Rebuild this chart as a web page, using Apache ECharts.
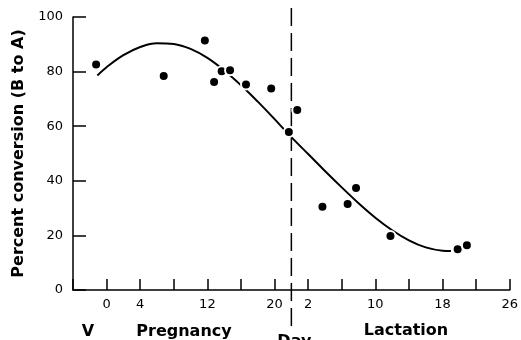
<!DOCTYPE html>
<html>
<head>
<meta charset="utf-8">
<script src="https://cdn.jsdelivr.net/npm/echarts@6/dist/echarts.min.js"></script>
<style>
    html, body { margin: 0; padding: 0; background: #fff; }
    #chart { width: 521px; height: 340px; }
</style>
</head>
<body>
<div id="chart"></div>
<script>
    // x = day of pregnancy; lactation day L is drawn at x = 22 + L
    const dayLabels = { 0: '0', 4: '4', 12: '12', 20: '20', 24: '2', 32: '10', 40: '18', 48: '26' };
    const birthDay = 22;

    // measured points
    const pointDays = [-1.25, 6.8, 11.7, 12.8, 13.7, 14.7, 16.6, 19.6, 21.7, 22.7, 25.7, 28.7, 29.7, 33.8, 41.8, 42.9];
    const pointValues = [82.6, 78.4, 91.4, 76.2, 80.1, 80.5, 75.3, 73.8, 57.9, 65.9, 30.5, 31.5, 37.4, 19.8, 14.9, 16.4];

    // fitted curve
    const curveDays = [-1.1, 0, 2, 4, 6, 8, 10, 12, 14, 16, 18, 20, 22, 24, 26, 28, 30, 32, 34, 36, 38, 40, 41];
    const curveValues = [78.6, 81.6, 86.0, 89.0, 90.4, 90.1, 88.3, 85.0, 80.4, 75.0, 69.0, 62.6, 56.0, 49.8, 43.6, 37.6, 31.8, 26.5, 21.9, 18.2, 15.6, 14.4, 14.3];

    document.addEventListener('DOMContentLoaded', function () {
        const chart = echarts.init(document.getElementById('chart'));
        const font = 'DejaVu Sans';

        const option = {
            animation: false,
            grid: { left: 73, right: 7, top: 17, bottom: 50 },
            xAxis: {
                type: 'value',
                min: -4,
                max: 48,
                interval: 4,
                axisLine: { onZero: false, lineStyle: { color: '#000', width: 1.5 } },
                axisTick: { inside: true, length: 11, lineStyle: { color: '#000', width: 1.5 } },
                splitLine: { show: false },
                axisLabel: {
                    color: '#000',
                    fontFamily: font,
                    fontSize: 13,
                    margin: 8,
                    formatter: function (v) { return dayLabels[v] || ''; }
                }
            },
            yAxis: {
                type: 'value',
                min: 0,
                max: 100,
                interval: 20,
                name: 'Percent conversion (B to A)',
                nameLocation: 'middle',
                nameGap: 41,
                nameTextStyle: { color: '#000', fontFamily: font, fontSize: 16, fontWeight: 'bold' },
                axisLine: { show: true, onZero: false, lineStyle: { color: '#000', width: 1.5 } },
                axisTick: { inside: true, length: 13, lineStyle: { color: '#000', width: 1.5 } },
                splitLine: { show: false },
                axisLabel: { color: '#000', fontFamily: font, fontSize: 13, margin: 10 }
            },
            series: [
                {
                    type: 'line',
                    smooth: 0.4,
                    symbol: 'none',
                    lineStyle: { color: '#000', width: 2 },
                    data: curveDays.map((d, i) => [d, curveValues[i]]),
                    z: 2
                },
                {
                    type: 'scatter',
                    symbolSize: 10,
                    itemStyle: { color: '#000', opacity: 1, borderColor: '#fff', borderWidth: 2 },
                    data: pointDays.map((d, i) => [d, pointValues[i]]),
                    z: 3
                }
            ]
        };
        chart.setOption(option);

        // birth divider, drawn past the plot area like the original
        const bx = chart.convertToPixel({ xAxisIndex: 0 }, birthDay);
        const textStyle = { fill: '#000', fontFamily: font, fontSize: 16, fontWeight: 'bold', align: 'center', verticalAlign: 'middle' };
        chart.setOption({
            graphic: [
                {
                    type: 'line',
                    shape: { x1: bx, y1: 8, x2: bx, y2: 326 },
                    style: { stroke: '#000', lineWidth: 1.5, lineDash: [18, 7] },
                    z: 1
                },
                { type: 'text', x: 88, y: 332, style: Object.assign({ text: 'V' }, textStyle) },
                { type: 'text', x: 184, y: 332, style: Object.assign({ text: 'Pregnancy' }, textStyle) },
                { type: 'text', x: bx + 3, y: 342, style: Object.assign({ text: 'Day' }, textStyle) },
                { type: 'text', x: 406, y: 331, style: Object.assign({ text: 'Lactation' }, textStyle) }
            ]
        });
    });
</script>
</body>
</html>
